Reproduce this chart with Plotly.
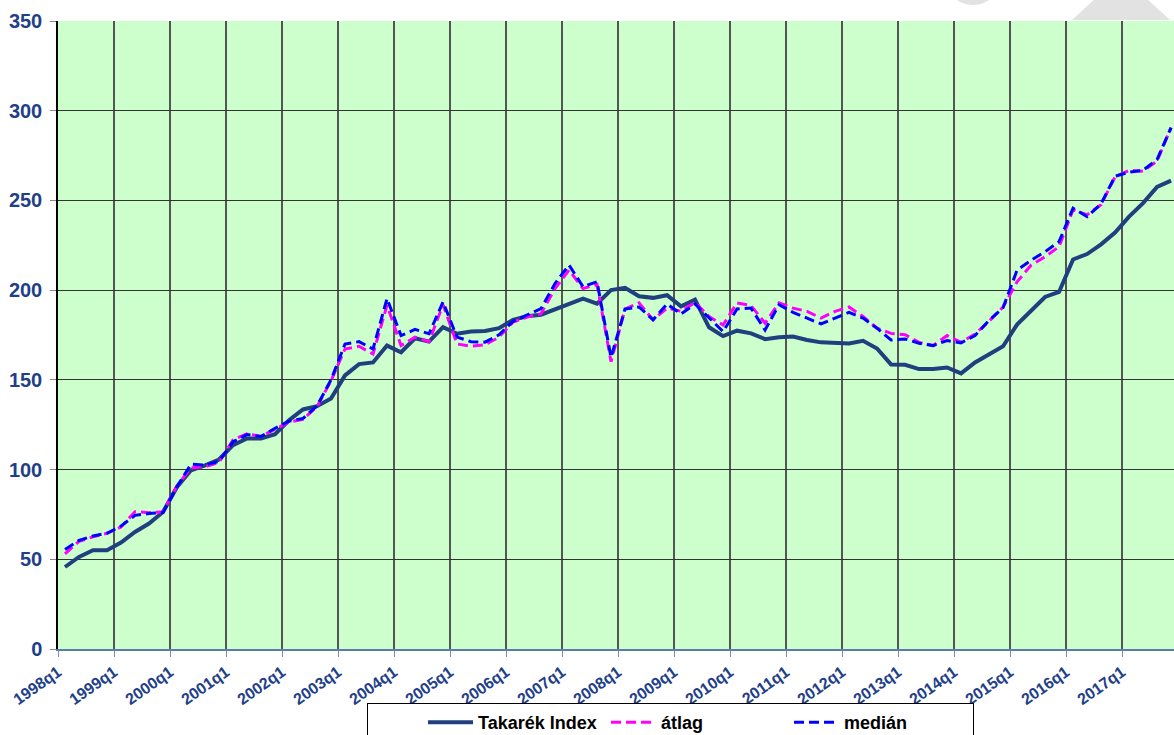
import plotly.graph_objects as go

years = list(range(1998, 2018))
quarters = [f"{y}q{q}" for y in years for q in range(1, 5)]
tick_labels = [f"{y}q1" for y in years]

takarek_index = [
    45.7, 51.3, 55.0, 55.0, 59.3, 65.2, 69.9, 76.4, 90.3, 99.6,
    102.4, 105.6, 113.6, 117.3, 117.3, 119.7, 127.5, 133.5, 135.3, 139.6,
    152.5, 158.8, 159.7, 169.1, 165.4, 173.2, 171.3, 179.4, 175.7, 177.0,
    177.2, 178.8, 183.5, 185.4, 186.3, 189.3, 192.5, 195.3, 192.5, 200.0,
    201.3, 196.6, 195.7, 197.2, 191.0, 194.7, 179.3, 174.4, 177.4, 175.9,
    172.7, 173.7, 174.1, 172.2, 170.9, 170.7, 170.3, 171.8, 167.5, 158.6,
    158.4, 156.0, 156.0, 156.9, 153.6, 159.7, 164.4, 168.7, 180.8, 188.7,
    196.2, 199.0, 217.1, 220.1, 225.5, 232.1, 241.0, 248.5, 257.5, 261.0,
]

atlag = [
    53.0, 60.0, 62.5, 64.5, 68.0, 76.5, 76.0, 76.5, 91.0, 101.0,
    101.5, 104.0, 116.5, 120.0, 118.5, 122.5, 126.5, 128.0, 135.0, 149.5,
    167.2, 168.7, 164.4, 191.6, 169.1, 173.8, 171.3, 191.9, 170.0, 168.7,
    169.5, 173.8, 182.2, 185.0, 186.9, 200.9, 211.2, 200.9, 203.2, 160.1,
    189.5, 192.9, 183.5, 190.0, 188.2, 193.2, 185.3, 180.6, 192.9, 191.4,
    181.6, 192.9, 190.0, 188.2, 184.4, 188.2, 190.6, 185.3, 178.8, 175.9,
    175.2, 170.9, 169.1, 174.7, 170.9, 175.6, 182.7, 190.6, 204.6, 213.9,
    218.6, 224.2, 244.8, 242.0, 247.6, 263.1, 266.8, 266.3, 271.9, 290.6,
]

median = [
    55.5, 60.5, 63.0, 64.5, 68.5, 74.5, 75.5, 76.0, 90.5, 103.0,
    102.5, 104.5, 115.5, 119.5, 118.5, 123.0, 127.0, 128.5, 135.5, 150.0,
    170.0, 171.3, 167.2, 195.3, 174.7, 178.1, 175.7, 193.4, 173.8, 171.3,
    171.0, 175.1, 182.6, 186.0, 189.7, 203.7, 214.0, 201.9, 204.7, 162.5,
    189.5, 190.6, 183.5, 192.3, 186.7, 192.3, 184.4, 176.9, 189.5, 190.0,
    177.8, 191.9, 187.6, 184.4, 181.2, 184.4, 187.6, 184.4, 178.8, 172.2,
    172.8, 170.4, 169.1, 171.9, 170.6, 174.7, 183.1, 190.2, 211.1, 216.7,
    221.4, 227.0, 245.7, 241.0, 248.1, 263.5, 265.7, 266.8, 272.8, 290.6,
]

x = list(range(len(quarters)))
tick_pos = [i - 0.5 for i in range(0, len(quarters), 4)]

fig = go.Figure()
fig.add_trace(go.Scatter(x=x, y=takarek_index, mode="lines", name="Takarék Index",
                         line=dict(color="#1F3F7F", width=4), text=quarters))
fig.add_trace(go.Scatter(x=x, y=atlag, mode="lines", name="átlag",
                         line=dict(color="#FF00FF", width=3, dash="10px,5px"), text=quarters))
fig.add_trace(go.Scatter(x=x, y=median, mode="lines", name="medián",
                         line=dict(color="#0000FF", width=3, dash="10px,5px"), text=quarters))

W, H = 1174, 735
L, R, T, B = 58, 0, 21, 86
pw, ph = W - L - R, H - T - B


def px(xp):
    return (xp - L) / pw


def py(yp):
    return (H - B - yp) / ph


shapes = [
    dict(type="circle", xref="paper", yref="paper",
         x0=px(945), x1=px(1001), y0=py(5), y1=py(-50),
         fillcolor="#E2E2E2", line=dict(width=0), layer="below"),
    dict(type="path", xref="paper", yref="paper",
         path=f"M{px(1072)},{py(20)} L{px(1170)},{py(20)} L{px(1121)},{py(-25)} Z",
         fillcolor="#E2E2E2", line=dict(width=0), layer="below"),
]

fig.update_layout(
    width=W, height=H,
    margin=dict(l=L, r=R, t=T, b=B, pad=0, autoexpand=False),
    paper_bgcolor="white",
    plot_bgcolor="#CCFFCC",
    font=dict(family="Liberation Sans, Arial, sans-serif"),
    shapes=shapes,
    showlegend=True,
    legend=dict(
        orientation="h", x=px(367), y=py(703), xanchor="left", yanchor="top",
        bgcolor="white", bordercolor="black", borderwidth=1,
        font=dict(family="Liberation Sans, Arial, sans-serif", size=18, color="black", weight="bold"),
        title=dict(text="\u00a0" * 9, side="left",
                   font=dict(family="Liberation Sans, Arial, sans-serif", size=18)),
        entrywidth=123, itemwidth=45,
    ),
    xaxis=dict(
        range=[-0.5, 79.21], tickmode="array", tickvals=tick_pos, ticktext=tick_labels,
        tickangle=-35, tickfont=dict(size=16, color="#1F3F88", weight="bold"),
        showgrid=True, gridcolor="#555555", gridwidth=1.5,
        ticks="outside", ticklen=6, tickcolor="#7F8FAF",
        showline=True, linecolor="#5B7BA8", linewidth=1.5,
        zeroline=False, fixedrange=True, automargin=False,
    ),
    yaxis=dict(
        range=[0, 350], tickmode="array", tickvals=list(range(0, 351, 50)),
        tickfont=dict(size=20, color="#1F3F88", weight="bold"),
        showgrid=True, gridcolor="#333333", gridwidth=1,
        ticks="outside", ticklen=6, tickcolor="#888888", ticklabelstandoff=4,
        showline=True, linecolor="black", linewidth=1.5,
        zeroline=False, fixedrange=True, automargin=False,
    ),
)

fig.write_html(
    "out.html",
    config={"displayModeBar": False},
    post_script="document.body.style.margin='0';document.body.style.padding='0';",
)
